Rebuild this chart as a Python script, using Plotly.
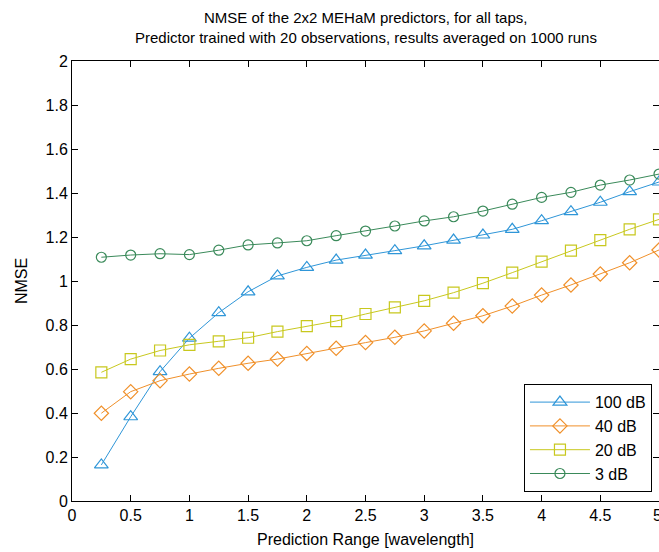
import plotly.graph_objects as go

x_range = [0.25, 0.5, 0.75, 1.0, 1.25, 1.5, 1.75, 2.0, 2.25, 2.5,
           2.75, 3.0, 3.25, 3.5, 3.75, 4.0, 4.25, 4.5, 4.75, 5.0]

nmse_100db = [0.164, 0.383, 0.588, 0.74, 0.856, 0.951, 1.023, 1.062, 1.095, 1.118,
              1.138, 1.16, 1.186, 1.209, 1.235, 1.274, 1.315, 1.358, 1.406, 1.45]
nmse_40db = [0.399, 0.497, 0.547, 0.577, 0.603, 0.626, 0.645, 0.671, 0.694, 0.72,
             0.744, 0.773, 0.808, 0.842, 0.886, 0.936, 0.982, 1.032, 1.083, 1.141]
nmse_20db = [0.585, 0.645, 0.684, 0.71, 0.726, 0.742, 0.77, 0.795, 0.818, 0.85,
             0.88, 0.91, 0.947, 0.99, 1.038, 1.088, 1.138, 1.186, 1.235, 1.28]
nmse_3db = [1.108, 1.118, 1.124, 1.12, 1.14, 1.164, 1.173, 1.183, 1.206, 1.227,
            1.25, 1.273, 1.292, 1.318, 1.349, 1.38, 1.403, 1.436, 1.459, 1.486]

series_names = ["100 dB", "40 dB", "20 dB", "3 dB"]
series_values = [nmse_100db, nmse_40db, nmse_20db, nmse_3db]
colors = ["#2f96d8", "#f0902a", "#c8c81e", "#3a8a5a"]
symbols = ["triangle-up-open", "diamond-open", "square-open", "circle-open"]
sizes = [12, 11, 11, 10]

x_ticks = [0, 0.5, 1, 1.5, 2, 2.5, 3, 3.5, 4, 4.5]
x_tick_text = ["0", "0.5", "1", "1.5", "2", "2.5", "3", "3.5", "4", "4.5"]
y_ticks = [0, 0.2, 0.4, 0.6, 0.8, 1, 1.2, 1.4, 1.6, 1.8, 2]
y_tick_text = ["0", "0.2", "0.4", "0.6", "0.8", "1", "1.2", "1.4", "1.6", "1.8", "2"]
title_lines = ["NMSE of the 2x2 MEHaM predictors, for all taps,",
               "Predictor trained with 20 observations, results averaged on 1000 runs"]

font = "Liberation Sans, Arial, sans-serif"
FS = 16

fig = go.Figure()
for name, vals, c, s, sz in zip(series_names, series_values, colors, symbols, sizes):
    fig.add_trace(go.Scatter(
        x=x_range, y=vals, name=name, legendgroup=name,
        mode="lines+markers",
        line=dict(color=c, width=1),
        marker=dict(symbol=s, size=sz, color=c, line=dict(color=c, width=1.2)),
    ))

# Title as two centered lines
fig.add_annotation(text=title_lines[0], xref="paper", yref="paper",
                   x=0.5, y=1.077 + 0.0227, xanchor="center", yanchor="middle",
                   showarrow=False, font=dict(family=font, size=15, color="#000"))
fig.add_annotation(text=title_lines[1], xref="paper", yref="paper",
                   x=0.5, y=1.077 - 0.0227, xanchor="center", yanchor="middle",
                   showarrow=False, font=dict(family=font, size=15, color="#000"))
# last x tick label (partially clipped at the right edge in the original)
fig.add_annotation(text="5", xref="x", yref="paper", x=5, y=-0.01,
                   xanchor="center", yanchor="top", showarrow=False, xshift=-2,
                   font=dict(family=font, size=FS, color="#000"))

fig.update_layout(
    width=659, height=552,
    margin=dict(l=72, r=0, t=61, b=51),
    paper_bgcolor="white", plot_bgcolor="white",
    font=dict(family=font, size=FS, color="#000000"),
    showlegend=True,
    legend=dict(
        x=0.988, xanchor="right", y=0.02, yanchor="bottom",
        bgcolor="white", bordercolor="#000000", borderwidth=1,
        font=dict(family=font, size=FS, color="#000000"),
        tracegroupgap=0, itemwidth=60, traceorder="grouped",
    ),
)
fig.update_xaxes(
    range=[0, 5], tickvals=x_ticks, ticktext=x_tick_text,
    ticks="inside", ticklen=6, tickcolor="#000000",
    tickfont=dict(family=font, size=FS),
    showline=True, linecolor="#000000", linewidth=1, mirror="ticks",
    showgrid=False, zeroline=False,
    title=dict(text="Prediction Range [wavelength]", standoff=10,
               font=dict(family=font, size=FS)),
)
fig.update_yaxes(
    range=[0, 2], tickvals=y_ticks, ticktext=y_tick_text,
    ticks="inside", ticklen=6, tickcolor="#000000",
    tickfont=dict(family=font, size=FS),
    showline=True, linecolor="#000000", linewidth=1, mirror="ticks",
    showgrid=False, zeroline=False,
    title=dict(text="NMSE", standoff=13, font=dict(family=font, size=FS)),
)

fig.write_html("out.html")
